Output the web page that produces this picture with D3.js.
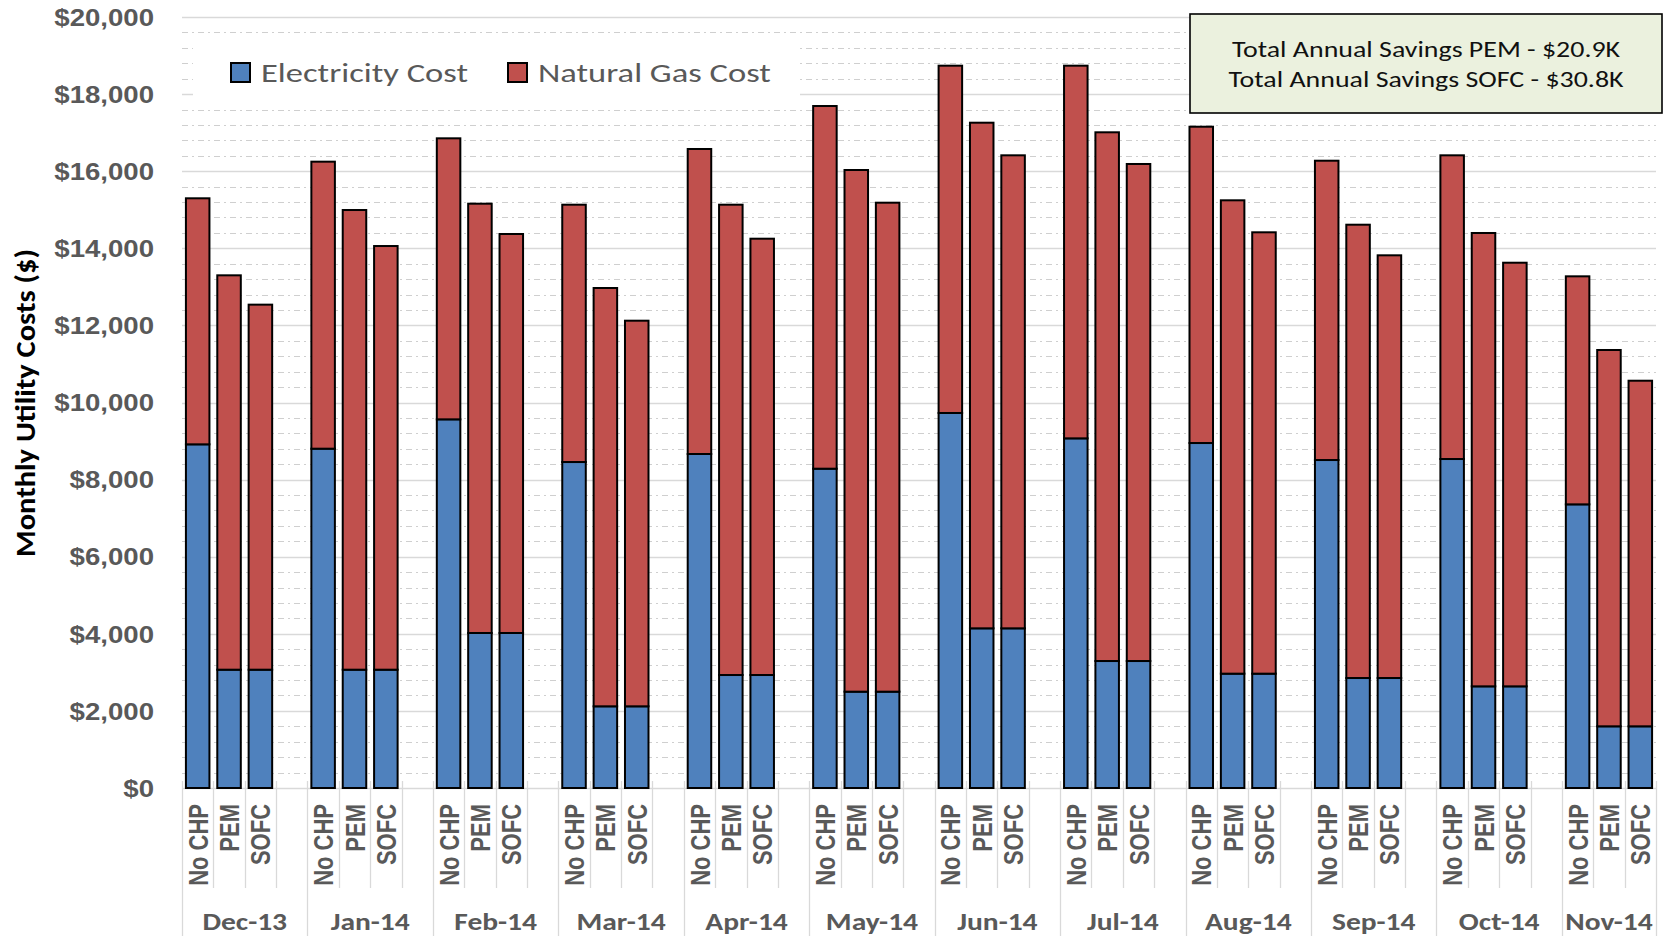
<!DOCTYPE html>
<html>
<head>
<meta charset="utf-8">
<script src="https://cdn.jsdelivr.net/npm/d3@7"></script>
<style>
  html, body { margin: 0; padding: 0; background: #ffffff; }
  svg { display: block; font-family: Calibri, Carlito, Lato, sans-serif; }
</style>
</head>
<body>
<svg id="chart" width="1675" height="936"></svg>
<script>
// Monthly utility costs per scenario, split into electricity and natural gas ($)
const months = ["Dec-13", "Jan-14", "Feb-14", "Mar-14", "Apr-14", "May-14",
                "Jun-14", "Jul-14", "Aug-14", "Sep-14", "Oct-14", "Nov-14"];
const scenarios = ["No CHP", "PEM", "SOFC"];

const elecNoCHP = [8915, 8802, 9563, 8456, 8664, 8283, 9728, 9070, 8949, 8508, 8534, 7358];
const gasNoCHP  = [6382, 7445, 7290, 6675, 7912, 9408, 9009, 9667, 8205, 7764, 7878, 5915];
const elecPEM   = [3069, 3069, 4021, 2119, 2931, 2499, 4142, 3294, 2966, 2853, 2637, 1600];
const gasPEM    = [10230, 11924, 11136, 10851, 12200, 13532, 13116, 13715, 12279, 11759, 11760, 9762];
const elecSOFC  = [3069, 3069, 4021, 2119, 2931, 2499, 4142, 3294, 2966, 2853, 2637, 1600];
const gasSOFC   = [9469, 10990, 10350, 10003, 11318, 12684, 12270, 12893, 11449, 10965, 10989, 8965];

const seriesNames = ["Electricity Cost", "Natural Gas Cost"];
const seriesColors = ["#4F81BD", "#C0504D"];
const yTickValues = [0, 2000, 4000, 6000, 8000, 10000, 12000, 14000, 16000, 18000, 20000];
const savingsNotes = ["Total Annual Savings PEM - $20.9K",
                      "Total Annual Savings SOFC - $30.8K"];
const yTitle = "Monthly Utility Costs ($)";

// Build one row per bar; every month but the last gets a trailing empty slot
const elecBy = { "No CHP": elecNoCHP, "PEM": elecPEM, "SOFC": elecSOFC };
const gasBy  = { "No CHP": gasNoCHP,  "PEM": gasPEM,  "SOFC": gasSOFC };
const rows = [];
const slotKeys = [];
months.forEach((m, i) => {
  scenarios.forEach(s => {
    const key = m + "|" + s;
    slotKeys.push(key);
    rows.push({ key, month: m, scenario: s, elec: elecBy[s][i], gas: gasBy[s][i] });
  });
  if (i < months.length - 1) slotKeys.push(m + "|gap");
});

const svg = d3.select("#chart");
const W = 1675, H = 936;
const plot = { left: 182, right: 1656, top: 17, bottom: 788 };

const x = d3.scaleBand().domain(slotKeys).range([plot.left, plot.right]).padding(0);
const y = d3.scaleLinear().domain([0, 20000]).range([plot.bottom, plot.top]);

const textGray = "#595959";
const gridGray = "#D9D9D9";
const wide = 1.2;   // horizontal widening applied to the label glyphs

// Gridlines: solid at each labelled tick, dash-dot in between
const gridVals = d3.range(0, 20001, 400);
svg.append("g").selectAll("line")
  .data(gridVals)
  .join("line")
  .attr("x1", plot.left).attr("x2", plot.right)
  .attr("y1", d => Math.round(y(d)) + 0.5).attr("y2", d => Math.round(y(d)) + 0.5)
  .attr("stroke", d => d % 2000 === 0 ? gridGray : "#CFCFCF")
  .attr("stroke-width", d => d % 2000 === 0 ? 1.3 : 1)
  .attr("stroke-dasharray", d => d % 2000 === 0 ? null : "6,4,2,4");

// Y axis labels
const yAxis = d3.axisLeft(y).tickValues(yTickValues).tickFormat(d3.format("$,")).tickSize(0);
const yg = svg.append("g").attr("transform", `translate(${plot.left},0)`).call(yAxis);
yg.select(".domain").remove();
yg.selectAll("text")
  .attr("x", 0)
  .attr("transform", `translate(-28,0) scale(${wide},1)`)
  .attr("fill", textGray)
  .style("font-size", "23px")
  .style("font-weight", "700")
  .attr("dy", "0.36em");

// Y axis title
svg.append("text")
  .attr("transform", `translate(35,403) rotate(-90) scale(1.09,1)`)
  .attr("text-anchor", "middle")
  .style("font-size", "28px")
  .style("font-weight", "700")
  .attr("fill", "#000")
  .text(yTitle);

// Category dividers along the x axis
const dividers = slotKeys.map((k, i) => ({ x: x(k), long: i % 4 === 0 }));
dividers.push({ x: plot.right, long: true });
svg.append("g").selectAll("line")
  .data(dividers)
  .join("line")
  .attr("x1", d => Math.round(d.x) + 0.5).attr("x2", d => Math.round(d.x) + 0.5)
  .attr("y1", plot.bottom - 7)
  .attr("y2", d => d.long ? H : 888)
  .attr("stroke", gridGray)
  .attr("stroke-width", 1.3);

// Stacked bars
const stack = d3.stack().keys(["elec", "gas"]);
const stacked = stack(rows);
const barW = x.bandwidth() * 0.75;
svg.append("g").selectAll("g")
  .data(stacked)
  .join("g")
  .attr("fill", (d, i) => seriesColors[i])
  .selectAll("rect")
  .data(d => d)
  .join("rect")
  .attr("x", d => x(d.data.key) + (x.bandwidth() - barW) / 2)
  .attr("width", barW)
  .attr("y", d => y(d[1]))
  .attr("height", d => y(d[0]) - y(d[1]))
  .attr("stroke", "#000")
  .attr("stroke-width", 2);

// Scenario labels under each bar (read bottom to top)
const xAxis = d3.axisBottom(x)
  .tickValues(rows.map(r => r.key))
  .tickFormat(k => k.split("|")[1])
  .tickSize(0);
const xg = svg.append("g").attr("transform", `translate(0,${plot.bottom})`).call(xAxis);
xg.select(".domain").remove();
xg.selectAll("text")
  .attr("transform", "rotate(-90) scale(1,1.27)")
  .attr("x", -16)
  .attr("y", 0)
  .attr("dy", "0.36em")
  .attr("text-anchor", "end")
  .attr("fill", textGray)
  .style("font-size", "22px")
  .style("font-weight", "700");

// Month labels centred under each group
svg.append("g").selectAll("text")
  .data(months)
  .join("text")
  .attr("transform", (m, i) => {
    const start = x(m + "|" + scenarios[0]);
    const end = i < months.length - 1 ? x(months[i + 1] + "|" + scenarios[0]) : plot.right;
    return `translate(${(start + end) / 2},930) scale(1.18,1)`;
  })
  .attr("text-anchor", "middle")
  .attr("fill", textGray)
  .style("font-size", "25px")
  .style("font-weight", "700")
  .text(d => d);

// Legend on a white panel
const legend = svg.append("g");
legend.append("rect")
  .attr("x", 193).attr("y", 38).attr("width", 607).attr("height", 62)
  .attr("fill", "#fff");
const legendX = [231, 508];
seriesNames.forEach((name, i) => {
  legend.append("rect")
    .attr("x", legendX[i]).attr("y", 63).attr("width", 19).attr("height", 19)
    .attr("fill", seriesColors[i]).attr("stroke", "#000").attr("stroke-width", 2);
  legend.append("text")
    .attr("transform", `translate(${legendX[i] + 30},82) scale(1.28,1)`)
    .attr("fill", textGray)
    .style("font-size", "27px")
    .text(name);
});

// Annual savings note
const note = svg.append("g");
note.append("rect")
  .attr("x", 1190).attr("y", 14).attr("width", 472).attr("height", 99)
  .attr("fill", "#EBF1DE").attr("stroke", "#000").attr("stroke-width", 1.6);
note.selectAll("text")
  .data(savingsNotes)
  .join("text")
  .attr("transform", (d, i) => `translate(1426,${57 + i * 30}) scale(1.27,1)`)
  .attr("text-anchor", "middle")
  .attr("fill", "#111")
  .style("font-size", "22px")
  .text(d => d);
</script>
</body>
</html>
